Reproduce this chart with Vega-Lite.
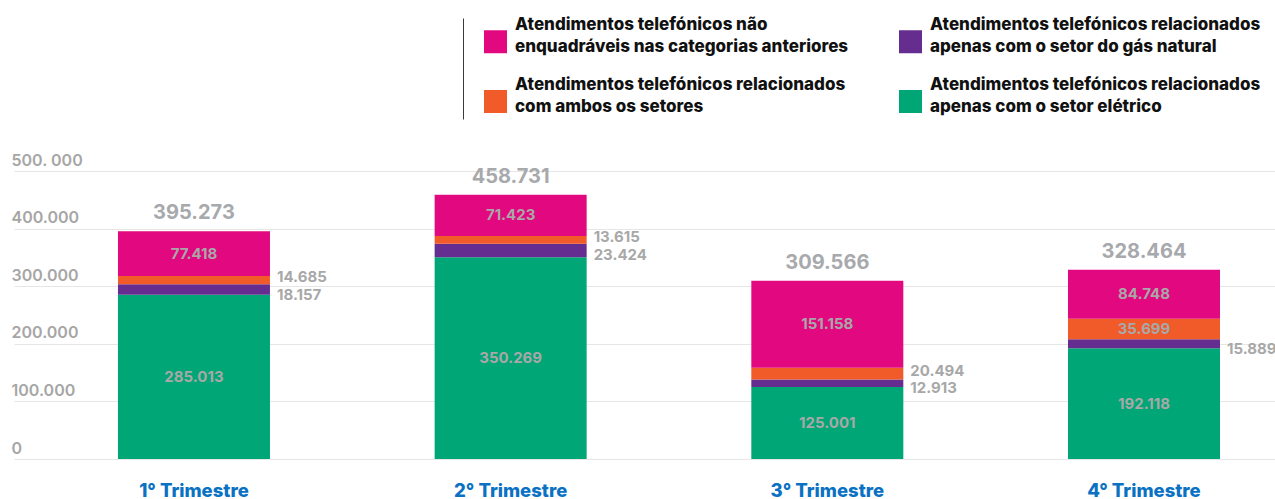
{
  "$schema": "https://vega.github.io/schema/vega-lite/v6.json",
  "width": 1261,
  "height": 288,
  "padding": {"left": 11, "top": 8, "right": 0, "bottom": 0},
  "background": "white",
  "config": {
    "view": {"stroke": null},
    "font": "Inter",
    "locale": {"number": {"decimal": ",", "thousands": ".", "grouping": [3], "currency": ["R$", ""]}}
  },
  "datasets": {
    "atendimentos": [
      {"trimestre": "1° Trimestre", "categoria": "Atendimentos telefónicos relacionados apenas com o setor elétrico", "ordem": 1, "valor": 285013},
      {"trimestre": "1° Trimestre", "categoria": "Atendimentos telefónicos relacionados apenas com o setor do gás natural", "ordem": 2, "valor": 18157},
      {"trimestre": "1° Trimestre", "categoria": "Atendimentos telefónicos relacionados com ambos os setores", "ordem": 3, "valor": 14685},
      {"trimestre": "1° Trimestre", "categoria": "Atendimentos telefónicos não enquadráveis nas categorias anteriores", "ordem": 4, "valor": 77418},
      {"trimestre": "2° Trimestre", "categoria": "Atendimentos telefónicos relacionados apenas com o setor elétrico", "ordem": 1, "valor": 350269},
      {"trimestre": "2° Trimestre", "categoria": "Atendimentos telefónicos relacionados apenas com o setor do gás natural", "ordem": 2, "valor": 23424},
      {"trimestre": "2° Trimestre", "categoria": "Atendimentos telefónicos relacionados com ambos os setores", "ordem": 3, "valor": 13615},
      {"trimestre": "2° Trimestre", "categoria": "Atendimentos telefónicos não enquadráveis nas categorias anteriores", "ordem": 4, "valor": 71423},
      {"trimestre": "3° Trimestre", "categoria": "Atendimentos telefónicos relacionados apenas com o setor elétrico", "ordem": 1, "valor": 125001},
      {"trimestre": "3° Trimestre", "categoria": "Atendimentos telefónicos relacionados apenas com o setor do gás natural", "ordem": 2, "valor": 12913},
      {"trimestre": "3° Trimestre", "categoria": "Atendimentos telefónicos relacionados com ambos os setores", "ordem": 3, "valor": 20494},
      {"trimestre": "3° Trimestre", "categoria": "Atendimentos telefónicos não enquadráveis nas categorias anteriores", "ordem": 4, "valor": 151158},
      {"trimestre": "4° Trimestre", "categoria": "Atendimentos telefónicos relacionados apenas com o setor elétrico", "ordem": 1, "valor": 192118},
      {"trimestre": "4° Trimestre", "categoria": "Atendimentos telefónicos relacionados apenas com o setor do gás natural", "ordem": 2, "valor": 15889},
      {"trimestre": "4° Trimestre", "categoria": "Atendimentos telefónicos relacionados com ambos os setores", "ordem": 3, "valor": 35699},
      {"trimestre": "4° Trimestre", "categoria": "Atendimentos telefónicos não enquadráveis nas categorias anteriores", "ordem": 4, "valor": 84748}
    ],
    "totais": [
      {"trimestre": "1° Trimestre", "total": 395273},
      {"trimestre": "2° Trimestre", "total": 458731},
      {"trimestre": "3° Trimestre", "total": 309566},
      {"trimestre": "4° Trimestre", "total": 328464}
    ]
  },
  "data": {"name": "atendimentos"},
  "encoding": {
    "x": {
      "field": "trimestre", "type": "nominal",
      "sort": ["1° Trimestre", "2° Trimestre", "3° Trimestre", "4° Trimestre"],
      "scale": {"paddingInner": 0.52, "paddingOuter": 0.251, "align": 0.654, "round": false},
      "axis": {
        "title": null, "domain": false, "ticks": false, "tickSize": 0, "labelAngle": 0,
        "labelFont": "Inter", "labelFontSize": 18.5, "labelFontWeight": 800, "labelColor": "#0a71c3",
        "labelBaseline": "alphabetic", "labelPadding": 37
      }
    }
  },
  "layer": [
    {
      "mark": {"type": "bar"},
      "encoding": {
        "y": {
          "field": "valor", "type": "quantitative", "stack": "zero",
          "scale": {"domain": [0, 500000], "nice": false},
          "axis": {
            "title": null, "values": [0, 100000, 200000, 300000, 400000, 500000],
            "labelExpr": "datum.value == 500000 ? '500. 000' : format(datum.value, ',')",
            "grid": true, "gridColor": "#e6e6e6", "domain": false, "ticks": false, "tickSize": 0,
            "labelAlign": "left", "labelBaseline": "alphabetic", "labelPadding": 3, "labelOffset": -6,
            "labelFont": "Inter", "labelFontSize": 16, "labelFontWeight": 600, "labelColor": "#a6a6a6"
          }
        },
        "color": {
          "field": "categoria", "type": "nominal",
          "scale": {
            "domain": [
              "Atendimentos telefónicos não enquadráveis nas categorias anteriores",
              "Atendimentos telefónicos relacionados com ambos os setores",
              "Atendimentos telefónicos relacionados apenas com o setor do gás natural",
              "Atendimentos telefónicos relacionados apenas com o setor elétrico"
            ],
            "range": ["#e2087f", "#f15a29", "#662d91", "#00a675"]
          },
          "legend": {
            "orient": "none", "legendX": 449, "legendY": -162, "padding": 21,
            "strokeColor": "#3a3a3a",
            "columns": 2, "columnPadding": 50, "rowPadding": 20, "title": null,
            "symbolType": "square", "symbolSize": 529, "symbolStrokeWidth": 0,
            "labelFont": "Inter", "labelFontSize": 17, "labelFontWeight": 800, "labelColor": "#111111",
            "labelLimit": 500, "labelOffset": 8, "labelBaseline": "bottom",
            "labelExpr": "indexof(datum.label, 'não') > 0 ? [slice(datum.label, 0, 28), slice(datum.label, 29)] : [slice(datum.label, 0, 37), slice(datum.label, 38)]",
            "encode": {
              "legend": {"update": {"strokeDash": {"value": [0, 1782, 101, 3000]}}},
              "labels": {"update": {"lineHeight": {"value": 22}, "dy": {"value": -8}}}
            }
          }
        },
        "order": {"field": "ordem", "type": "quantitative"}
      }
    },
    {
      "mark": {"type": "text", "font": "Inter", "fontSize": 15, "fontWeight": 700, "color": "#a8a8a8", "baseline": "middle"},
      "encoding": {
        "y": {"field": "valor", "type": "quantitative", "stack": "zero", "bandPosition": 0.5, "title": null},
        "detail": {"field": "categoria"},
        "order": {"field": "ordem", "type": "quantitative"},
        "text": {"condition": {"test": "datum.valor >= 30000", "field": "valor", "type": "quantitative", "format": ","}, "value": ""}
      }
    },
    {
      "mark": {"type": "text", "font": "Inter", "fontSize": 15, "fontWeight": 700, "color": "#a8a8a8", "baseline": "middle", "align": "left", "dx": 7, "dy": -3},
      "encoding": {
        "x": {"field": "trimestre", "type": "nominal", "bandPosition": 1},
        "y": {"field": "valor", "type": "quantitative", "stack": "zero", "bandPosition": 0.5, "title": null},
        "detail": {"field": "categoria"},
        "order": {"field": "ordem", "type": "quantitative"},
        "text": {"condition": {"test": "datum.valor < 30000 && datum.ordem == 3", "field": "valor", "type": "quantitative", "format": ","}, "value": ""}
      }
    },
    {
      "mark": {"type": "text", "font": "Inter", "fontSize": 15, "fontWeight": 700, "color": "#a8a8a8", "baseline": "middle", "align": "left", "dx": 7, "dy": 5},
      "encoding": {
        "x": {"field": "trimestre", "type": "nominal", "bandPosition": 1},
        "y": {"field": "valor", "type": "quantitative", "stack": "zero", "bandPosition": 0.5, "title": null},
        "detail": {"field": "categoria"},
        "order": {"field": "ordem", "type": "quantitative"},
        "text": {"condition": {"test": "datum.valor < 30000 && datum.ordem == 2", "field": "valor", "type": "quantitative", "format": ","}, "value": ""}
      }
    },
    {
      "data": {"name": "totais"},
      "mark": {"type": "text", "font": "Inter", "fontSize": 20, "fontWeight": 700, "color": "#a7a9ac", "baseline": "alphabetic", "dy": -12},
      "encoding": {
        "y": {"field": "total", "type": "quantitative", "title": null},
        "text": {"field": "total", "type": "quantitative", "format": ","}
      }
    }
  ]
}
